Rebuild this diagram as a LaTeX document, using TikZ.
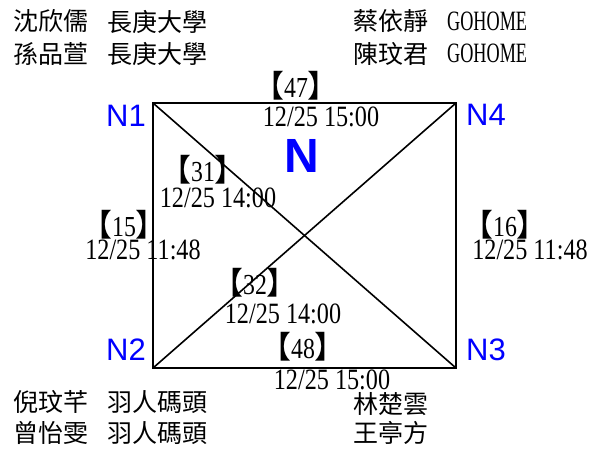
\documentclass[tikz,border=0pt]{standalone}
\usepackage{fontspec}
\usepackage{tikz}
\usetikzlibrary{calc}
\newfontfamily\cjkfont{Noto Sans CJK TC}
\newfontfamily\digitfont[FakeStretch=0.82]{Liberation Serif}
\newfontfamily\capfont[FakeStretch=0.65]{Liberation Serif}
\newfontfamily\nodefont{Liberation Sans}
\newcommand{\lb}{{\cjkfont\fontsize{31}{31}\selectfont 【}}
\newcommand{\rb}{{\cjkfont\fontsize{31}{31}\selectfont 】}}

\begin{document}
\begin{tikzpicture}[
          x=1pt, y=-1pt,
          edge/.style={line width=1.6pt, line join=miter},
          corner/.style={font=\nodefont\fontsize{31}{31}\selectfont, text=blue, inner sep=0pt},
          tag/.style={font=\digitfont\fontsize{29}{29}\selectfont, inner sep=0pt},
          stamp/.style={font=\digitfont\fontsize{29.5}{29.5}\selectfont, inner sep=0pt},
          who/.style={font=\cjkfont\fontsize{25}{25}\selectfont, inner sep=0pt, anchor=west},
          team/.style={font=\capfont\fontsize{28}{28}\selectfont, inner sep=0pt, anchor=west},
        ]
        \useasboundingbox (0,0) rectangle (589,448);

        % four corners of the court
        \coordinate (n1) at (153,103);
        \coordinate (n4) at (456,103);
        \coordinate (n3) at (456,368);
        \coordinate (n2) at (153,368);

        % outline + the two diagonals
        \draw[edge] (n1) -- (n4) -- (n3) -- (n2) -- cycle;
        \draw[edge] (n1) -- (n3);
        \draw[edge] (n2) -- (n4);

        % corner names
        \node[corner] (c1) at (126,116) {N1};
        \node[corner] (c4) at (486,115) {N4};
        \node[corner] (c2) at (126,350) {N2};
        \node[corner] (c3) at (486,350) {N3};
        \node[font=\nodefont\bfseries\fontsize{48}{48}\selectfont, text=blue, inner sep=0pt]
          (mid) at (302,156) {N};

        % -----------------------
        % edge tags and times
        % -----------------------
        \node[tag]   (t47) at (296,86)  {\lb47\rb};
        \node[stamp] (d47) at (321,117) {12/25 15:00};

        \node[tag]   (t31) at (203,170) {\lb31\rb};
        \node[stamp] (d31) at (218,198) {12/25 14:00};

        \node[tag]   (t15) at (124,225) {\lb15\rb};
        \node[stamp] (d15) at (143,250) {12/25 11:48};

        \node[tag]   (t16) at (505,225) {\lb16\rb};
        \node[stamp] (d16) at (530,250) {12/25 11:48};

        \node[tag]   (t32) at (255,283) {\lb32\rb};
        \node[stamp] (d32) at (283,314) {12/25 14:00};

        \node[tag]   (t48) at (303,347) {\lb48\rb};
        \node[stamp] (d48) at (332,380) {12/25 15:00};

        % -----------------------
        % players
        % -----------------------
        \node[who]  (p1) at (13,21.5)  {沈欣儒};
        \node[who]  (o1) at (107,21.5) {長庚大學};
        \node[who]  (p2) at (13,53.5)  {孫品萱};
        \node[who]  (o2) at (107,53.5) {長庚大學};

        \node[who]  (p3) at (353,21.5) {蔡依靜};
        \node[team] (o3) at (447,21.5) {GOHOME};
        \node[who]  (p4) at (353,53.5) {陳玟君};
        \node[team] (o4) at (447,53.5) {GOHOME};

        \node[who]  (p5) at (13,402)  {倪玟芊};
        \node[who]  (o5) at (107,402) {羽人碼頭};
        \node[who]  (p6) at (13,433)  {曾怡雯};
        \node[who]  (o6) at (107,433) {羽人碼頭};

        \node[who]  (p7) at (353,404) {林楚雲};
        \node[who]  (p8) at (353,433) {王亭方};
\end{tikzpicture}
\end{document}
